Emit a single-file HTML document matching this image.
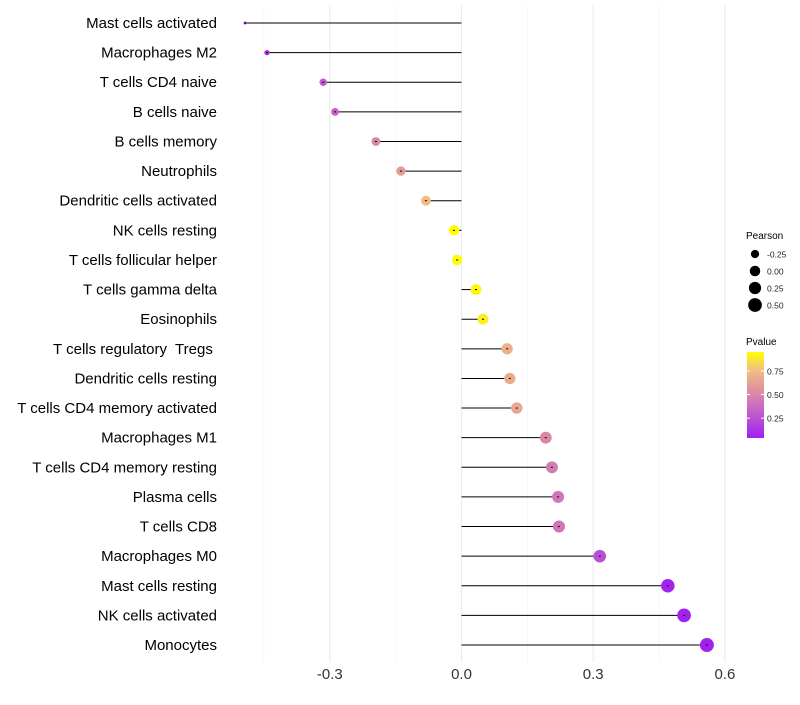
<!DOCTYPE html>
<html><head><meta charset="utf-8"><style>
body{margin:0;background:#fff;font-family:"Liberation Sans",sans-serif}
text{white-space:pre}
</style></head><body>
<svg id="c" width="800" height="700" xmlns="http://www.w3.org/2000/svg">
<defs><linearGradient id="pg" x1="0" y1="1" x2="0" y2="0">
<stop offset="0" stop-color="#a020f0"/><stop offset="0.35" stop-color="#c868c8"/><stop offset="0.55" stop-color="#de8fa0"/><stop offset="0.8" stop-color="#f2c080"/><stop offset="1" stop-color="#ffff00"/></linearGradient></defs>
</svg>
<script>
const categories=["Mast cells activated","Macrophages M2","T cells CD4 naive","B cells naive","B cells memory","Neutrophils","Dendritic cells activated","NK cells resting","T cells follicular helper","T cells gamma delta","Eosinophils","T cells regulatory  Tregs ","Dendritic cells resting","T cells CD4 memory activated","Macrophages M1","T cells CD4 memory resting","Plasma cells","T cells CD8","Macrophages M0","Mast cells resting","NK cells activated","Monocytes"];
const pearson=[-0.493,-0.443,-0.315,-0.288,-0.195,-0.138,-0.081,-0.017,-0.010,0.033,0.049,0.104,0.110,0.126,0.192,0.206,0.220,0.222,0.315,0.470,0.507,0.559];
const pvalue=[0.06,0.1,0.3,0.33,0.5,0.6,0.75,0.97,0.97,0.93,0.9,0.7,0.68,0.65,0.5,0.45,0.42,0.42,0.25,0.06,0.05,0.05];
const xTicks=[-0.3,0,0.3,0.6];
const xTickLabels=["-0.3","0.0","0.3","0.6"];
const svg=document.getElementById('c');const NS="http://www.w3.org/2000/svg";
const X=v=>461.5+v*439;
const Y=i=>23+i*29.62;
const R=v=>1.5+5.5*Math.sqrt(Math.max(0,(v+0.49)/1.05));
function mk(t,a,p){const e=document.createElementNS(NS,t);for(const k in a)e.setAttribute(k,a[k]);(p||svg).appendChild(e);return e;}
function lerp(a,b,t){return a.map((x,i)=>Math.round(x+(b[i]-x)*t));}
const stops=[[0,[160,32,240]],[0.35,[200,104,200]],[0.55,[222,143,160]],[0.8,[242,192,128]],[1,[255,255,0]]];
function col(p){const t=Math.min(1,Math.max(0,(p-0.04)/0.91));for(let i=1;i<stops.length;i++){if(t<=stops[i][0]){const c=lerp(stops[i-1][1],stops[i][1],(t-stops[i-1][0])/(stops[i][0]-stops[i-1][0]));return `rgb(${c})`;}}return 'rgb(255,255,0)';}
const gg=mk('g',{});
[-0.45,-0.15,0.15,0.45].forEach(v=>mk('line',{x1:X(v),x2:X(v),y1:5,y2:662,stroke:'#f2f2f2','stroke-width':0.6},gg));
xTicks.forEach(v=>mk('line',{x1:X(v),x2:X(v),y1:5,y2:662,stroke:'#ebebeb','stroke-width':1.1},gg));
categories.forEach((c,i)=>{
 const y=Y(i);
 const t=mk('text',{x:217,y:y+5,'text-anchor':'end','font-size':15,fill:'#000'});t.textContent=c;
 
 const l=mk('line',{x1:X(0),x2:X(pearson[i]),y1:y,y2:y,stroke:'#000','stroke-width':1});
 
 const d=mk('circle',{cx:X(pearson[i]),cy:y,r:R(pearson[i]),fill:col(pvalue[i])});
 
 mk('line',{x1:X(pearson[i])-1,x2:X(pearson[i])+1,y1:y,y2:y,stroke:'#000','stroke-width':1});
});
xTicks.forEach((v,i)=>{const t=mk('text',{x:X(v),y:679,'text-anchor':'middle','font-size':15,fill:'#333'});t.textContent=xTickLabels[i];
 });
const lg=mk('g',{});
let t=mk('text',{x:746,y:239,'font-size':10,fill:'#000'},lg);t.textContent='Pearson';
const legVals=[-0.25,0,0.25,0.5],legLab=["-0.25","0.00","0.25","0.50"];
legVals.forEach((v,i)=>{const y=254+i*17;mk('circle',{cx:755,cy:y,r:R(v)},lg);const tt=mk('text',{x:767,y:y+3.5,'font-size':8.5,fill:'#222'},lg);tt.textContent=legLab[i];});
t=mk('text',{x:746,y:345,'font-size':10,fill:'#000'},lg);t.textContent='Pvalue';
mk('rect',{x:747,y:352,width:17,height:86,fill:'url(#pg)'},lg);
[[0.75,"0.75"],[0.5,"0.50"],[0.25,"0.25"]].forEach(([v,s])=>{const y=438-(v-0.04)/0.91*86;
 mk('line',{x1:747,x2:750,y1:y,y2:y,stroke:'#fff'},lg);mk('line',{x1:761,x2:764,y1:y,y2:y,stroke:'#fff'},lg);
 const tt=mk('text',{x:767,y:y+3.5,'font-size':8.5,fill:'#222'},lg);tt.textContent=s;});
</script>
</body></html>
